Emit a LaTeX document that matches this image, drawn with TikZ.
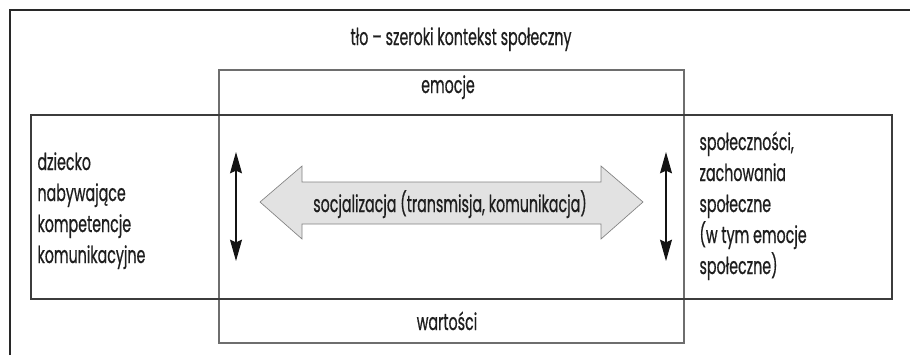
\documentclass[tikz,border=0pt]{standalone}
\usepackage{fontspec}
\setmainfont{Poppins}[FakeStretch=0.61,FakeBold=0.6]
\usetikzlibrary{arrows.meta}

\tikzset{every picture/.style={line width=0.75pt}}
\tikzset{
  txt/.style={inner sep=0pt, color={rgb, 255:red, 30; green, 30; blue, 30}, font=\fontsize{17.5}{23.25}\selectfont},
  pionarr/.style={color={rgb, 255:red, 20; green, 20; blue, 20}, line width=0.8, {Stealth[length=16pt,width=9pt,inset=2pt]}-{Stealth[length=16pt,width=9pt,inset=2pt]}}
}

\begin{document}
\begin{tikzpicture}[x=0.75pt,y=0.75pt,yscale=-1,xscale=1]
\useasboundingbox (0,0) rectangle (910,355);
%Straight Lines -- outer frame
\draw [color={rgb, 255:red, 40; green, 40; blue, 40 }, line width=1.2]   (10,355) -- (10,10) -- (910,10) ;
%Shape: Rectangle -- emocje / wartosci
\draw [color={rgb, 255:red, 110; green, 110; blue, 110 }, line width=0.9]   (219,70) rectangle (684,343) ;
%Shape: Rectangle -- dziecko / spolecznosci
\draw [color={rgb, 255:red, 60; green, 60; blue, 60 }, line width=0.9]   (31,115) rectangle (892,299) ;
%Shape: Double Arrow
\draw [color={rgb, 255:red, 130; green, 130; blue, 130 }, fill={rgb, 255:red, 226; green, 226; blue, 226 }, line width=0.5]
  (260,202) -- (302,166) -- (302,182) -- (601,182) -- (601,166) -- (643,202) -- (601,239) -- (601,224) -- (302,224) -- (302,239) -- cycle ;

%Straight Lines
\coordinate (lgora) at (236,152);
\coordinate (ldol) at (236,261);
\draw [pionarr]   (lgora) -- (ldol) ;
%Straight Lines
\coordinate (pgora) at (666,152);
\coordinate (pdol) at (666,261);
\draw [pionarr]   (pgora) -- (pdol) ;

% Text Node
\node (tlo) [txt, anchor=base] at (461,45) {tło – szeroki kontekst społeczny};
% Text Node
\node (emocje) [txt, anchor=base] at (448,93) {emocje};
% Text Node
\node (wartosci) [txt, anchor=base] at (447,330) {wartości};
% Text Node
\node (socjal) [txt, anchor=base] at (450,212) {socjalizacja (transmisja, komunikacja)};
% Text Node
\node (dziecko) [txt, anchor=base west, align=left] at (37,263) {dziecko\\nabywające\\kompetencje\\komunikacyjne};
% Text Node
\node (spolecznosci) [txt, anchor=base west, align=left] at (699,274) {społeczności,\\zachowania\\społeczne\\(w tym emocje\\społeczne)};

\end{tikzpicture}
\end{document}
